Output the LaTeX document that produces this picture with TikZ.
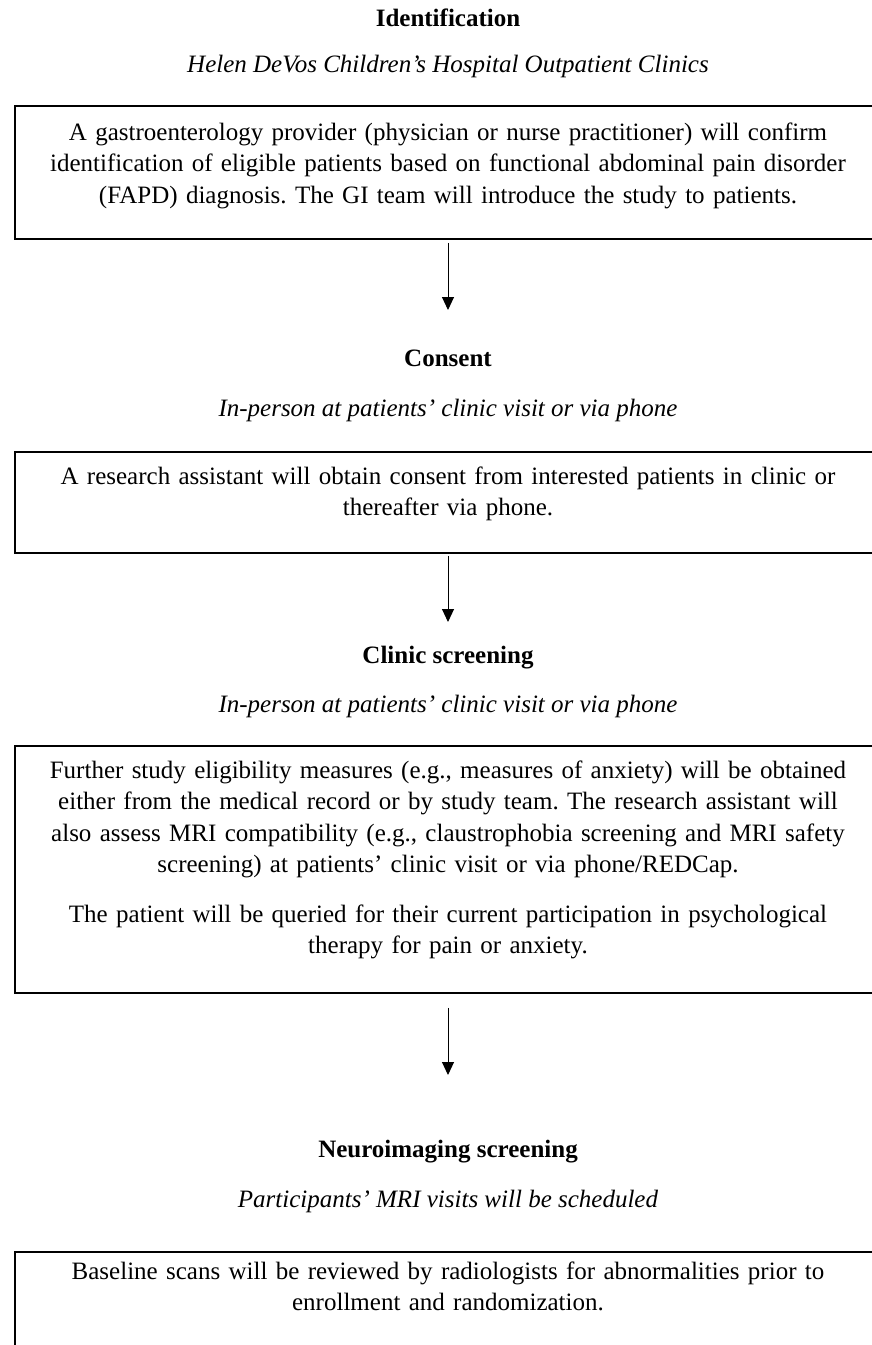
\documentclass[tikz,border=0pt]{standalone}
\usepackage{fontspec}
\setmainfont{Liberation Serif}
\usetikzlibrary{arrows.meta}
\frenchspacing

\begin{document}
\begin{tikzpicture}[x=1pt, y=-1pt,
    font=\fontsize{25}{31.5}\selectfont,
    frame/.style={draw, line width=1.6pt, minimum width=880pt, inner sep=0pt},
    boxtext/.style={anchor=base, text width=850pt, align=center, inner sep=0pt},
    head/.style={anchor=base, inner sep=0pt, font=\fontsize{25}{31.5}\selectfont\bfseries},
    sub/.style={anchor=base, inner sep=0pt, font=\fontsize{25}{31.5}\selectfont\itshape},
    flow/.style={line width=1pt, -{Triangle[length=13pt, width=12pt]}}]
    \useasboundingbox (0,0) rectangle (872,1345);

    % Identification
    \node[head] (idhead) at (448,26.7) {Identification};
    \node[sub] (idsub) at (448,72.7) {Helen DeVos Children’s Hospital Outpatient Clinics};
    \node[frame, minimum height=133pt] (idframe) at (455,172.5) {};
    \node[boxtext] (idtext) at (448,140) {A gastroenterology provider (physician or nurse practitioner) will confirm\\
        identification of eligible patients based on functional abdominal pain disorder\\
        (FAPD) diagnosis. The GI team will introduce the study to patients.};
    \coordinate (idend) at (448,310);
    \draw[flow] ([xshift=-7pt, yshift=-3pt]idframe.south) -- (idend);

    % Consent
    \node[head] (conhead) at (448,366) {Consent};
    \node[sub] (consub) at (448,416) {In-person at patients’ clinic visit or via phone};
    \node[frame, minimum height=101.3pt] (conframe) at (455,502.35) {};
    \node[boxtext] (context) at (448,484) {A research assistant will obtain consent from interested patients in clinic or\\
        thereafter via phone.};
    \coordinate (conend) at (448,622);
    \draw[flow] ([xshift=-7pt, yshift=-2pt]conframe.south) -- (conend);

    % Clinic screening
    \node[head] (clinhead) at (448,663) {Clinic screening};
    \node[sub] (clinsub) at (448,712) {In-person at patients’ clinic visit or via phone};
    \node[frame, minimum height=247pt] (clinframe) at (455,869.5) {};
    \node[boxtext] (clintext) at (448,778) {Further study eligibility measures (e.g., measures of anxiety) will be obtained\\
        either from the medical record or by study team. The research assistant will\\
        also assess MRI compatibility (e.g., claustrophobia screening and MRI safety\\
        screening) at patients’ clinic visit or via phone/REDCap.\\[18pt]
        The patient will be queried for their current participation in psychological\\
        therapy for pain or anxiety.};
    \coordinate (clinend) at (448,1075);
    \draw[flow] ([xshift=-7pt, yshift=-14pt]clinframe.south) -- (clinend);

    % Neuroimaging screening
    \node[head] (neurohead) at (448,1157) {Neuroimaging screening};
    \node[sub] (neurosub) at (448,1207) {Participants’ MRI visits will be scheduled};
    \node[frame, minimum height=108pt] (neuroframe) at (455,1306) {};
    \node[boxtext] (neurotext) at (448,1279) {Baseline scans will be reviewed by radiologists for abnormalities prior to\\
        enrollment and randomization.};
\end{tikzpicture}
\end{document}
